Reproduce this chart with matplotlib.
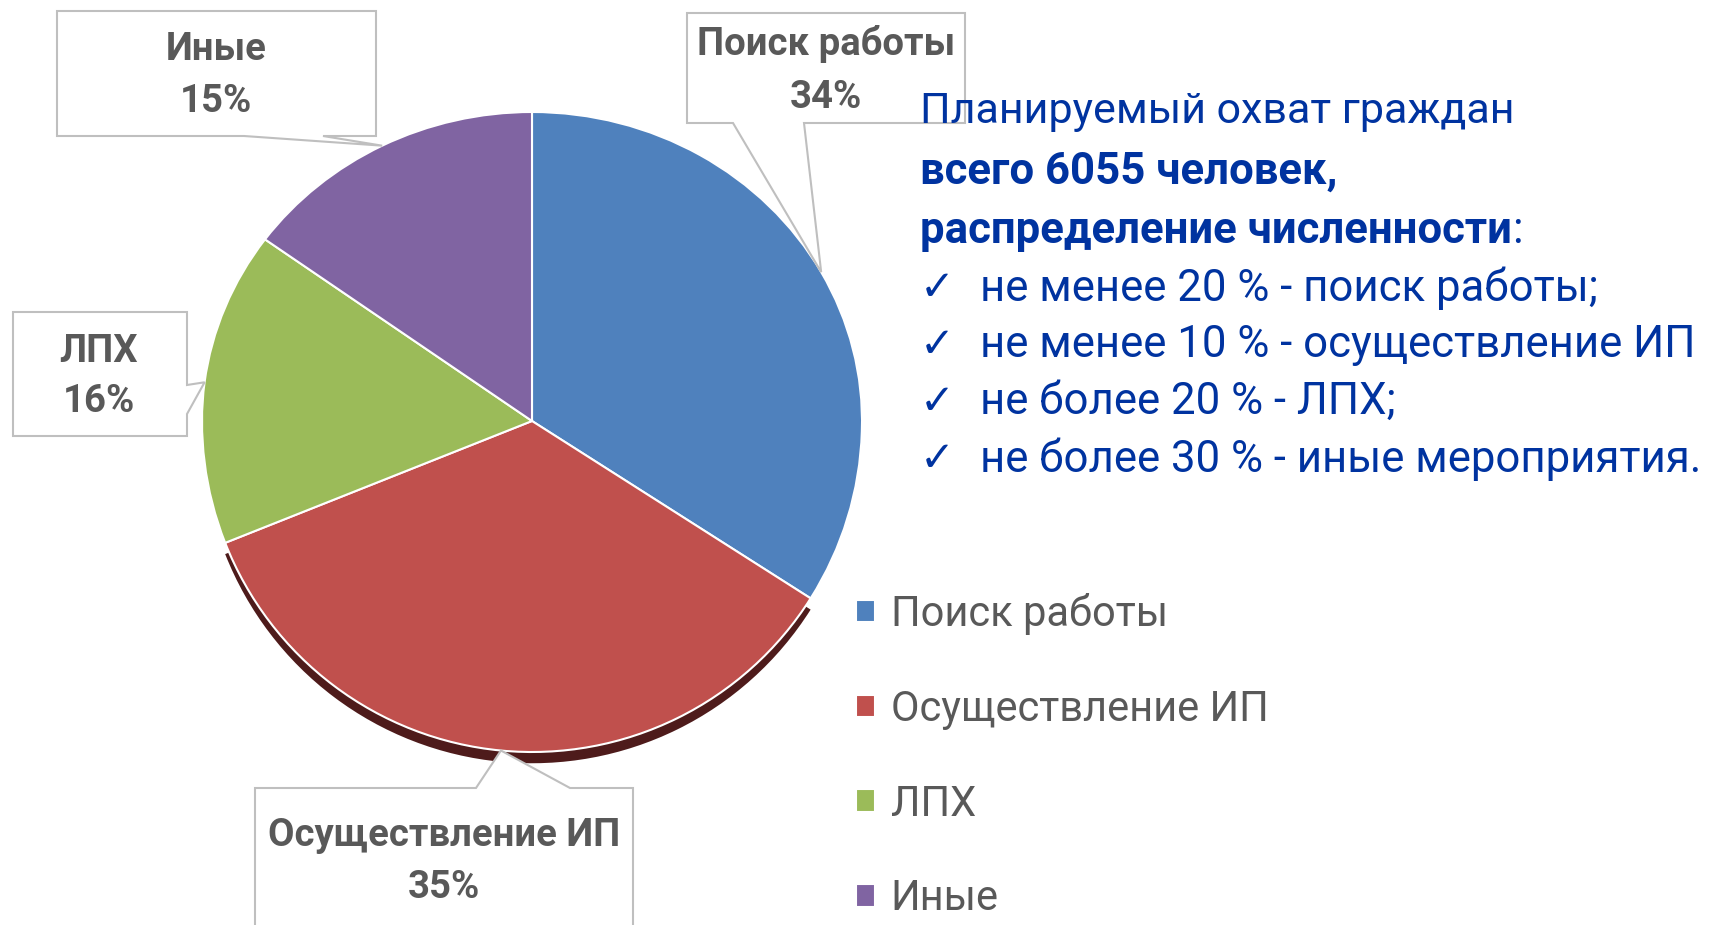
import numpy as np
import matplotlib.pyplot as plt
from matplotlib.patches import Polygon, Wedge

# данные
categories = ['Поиск работы', 'Осуществление ИП', 'ЛПХ', 'Иные']
shares = [34, 35, 16, 15]
colors = ['#4F81BD', '#C0504D', '#9BBB59', '#8064A2']

head_lines = ['Планируемый охват граждан', 'всего 6055 человек,', 'распределение численности']
items = ['не менее 20 % - поиск работы;',
         'не менее 10 % - осуществление ИП',
         'не более 20 % - ЛПХ;',
         'не более 30 % - иные мероприятия.']

plt.rcParams['font.family'] = ['Roboto', 'DejaVu Sans']
GRAY = '#595959'
BLUE = '#0033A0'

W, H = 1711, 925
fig = plt.figure(figsize=(W / 100, H / 100), dpi=100)

# круг в оригинале слегка «в перспективе»: верхняя половина ниже нижней,
# поэтому рисуем его двумя осями (верх и низ) с одной и той же диаграммой
cx, cy, rx, r_up, r_dn = 532, 421, 330, 309, 331
m, mb = 1.01, 1.06
axA = fig.add_axes([(cx - rx * m) / W, 1 - (cy + 1) / H, 2 * rx * m / W, (r_up * m + 1) / H])
axB = fig.add_axes([(cx - rx * m) / W, 1 - (cy + r_dn * mb) / H, 2 * rx * m / W, r_dn * mb / H])

pies = {}
for a in (axA, axB):
    wedges, _ = a.pie(shares, colors=colors, startangle=90, counterclock=False,
                      wedgeprops=dict(edgecolor='white', linewidth=1.5))
    for w in wedges:
        w.set_clip_on(True)
    a.set_aspect('auto')
    a.set_xlim(-m, m)
    pies[a] = wedges
axA.set_ylim(-1 / r_up, m)
axB.set_ylim(-mb, 0)

# тень под красным сектором
red = pies[axB][1]
axB.add_patch(Wedge((0, -0.034), 1, red.theta1, red.theta2, facecolor='#4E1B1B',
                    edgecolor='none', zorder=0))

# слой в пикселях для подписей
ov = fig.add_axes([0, 0, 1, 1])
ov.set_xlim(0, W)
ov.set_ylim(H, 0)
ov.axis('off')


def tip_of(w):
    t = np.deg2rad((w.theta1 + w.theta2) / 2)
    a = axA if np.sin(t) >= 0 else axB
    p = a.transData.transform((np.cos(t), np.sin(t)))
    return ov.transData.inverted().transform(p)


def callout(box, side, base, tip):
    x0, y0, x1, y1 = box
    b1, b2 = base
    if side == 'bottom':
        pts = [(x0, y0), (x1, y0), (x1, y1), (b2, y1), tip, (b1, y1), (x0, y1)]
    elif side == 'right':
        pts = [(x0, y0), (x1, y0), (x1, b1), tip, (x1, b2), (x1, y1), (x0, y1)]
    else:
        pts = [(x0, y0), (b1, y0), tip, (b2, y0), (x1, y0), (x1, y1), (x0, y1)]
    ov.add_patch(Polygon(pts, closed=True, facecolor='white',
                         edgecolor='#BFBFBF', linewidth=1.5, zorder=3))


# рамки подписей: (рамка, сторона выноски, основание выноски, центр текста)
boxes = {
    'Поиск работы': ((687, 13, 965, 123), 'bottom', (733, 804), (826, 44, 98)),
    'Осуществление ИП': ((255, 788, 633, 940), 'top', (476, 570), (444, 836, 887)),
    'ЛПХ': ((13, 312, 187, 436), 'right', (385, 414), (99, 351, 402)),
    'Иные': ((57, 11, 376, 136), 'bottom', (244, 323), (216, 49, 101)),
}

for w, cat, val in zip(pies[axA], categories, shares):
    box, side, base, (tx, ty1, ty2) = boxes[cat]
    callout(box, side, base, tip_of(w))
    ov.text(tx, ty1, cat, ha='center', va='center', fontsize=27.5,
            fontweight='bold', color=GRAY, zorder=4)
    ov.text(tx, ty2, f'{val}%', ha='center', va='center', fontsize=27.5,
            fontweight='bold', color=GRAY, zorder=4)

# текстовый блок справа
FS = 31.5
ov.text(920, 112, head_lines[0], ha='left', va='center', fontsize=31, color=BLUE)
ov.text(920, 172, head_lines[1], ha='left', va='center', fontsize=FS,
        fontweight='bold', color=BLUE)
t3 = ov.text(920, 231, head_lines[2], ha='left', va='center', fontsize=FS,
             fontweight='bold', color=BLUE)
ov.annotate(':', xy=(1, 0), xycoords=t3, ha='left', va='bottom',
            fontsize=FS, color=BLUE)
for i, it in enumerate(items):
    y = 288 + i * 57
    ov.text(920, y, '✓', ha='left', va='center', fontsize=30, color=BLUE,
            family=['DejaVu Sans'])
    ov.text(980, y, it, ha='left', va='center', fontsize=FS, color=BLUE)

# легенда
leg = fig.legend(pies[axA], categories, loc='upper left',
                 bbox_to_anchor=(856 / W, 1 - 593 / H), frameon=False,
                 fontsize=30, labelcolor=GRAY, handlelength=0.45,
                 handleheight=0.45, handletextpad=0.38, labelspacing=1.29,
                 borderpad=0, borderaxespad=0)

fig.savefig('out.png', dpi=100, facecolor='white')
